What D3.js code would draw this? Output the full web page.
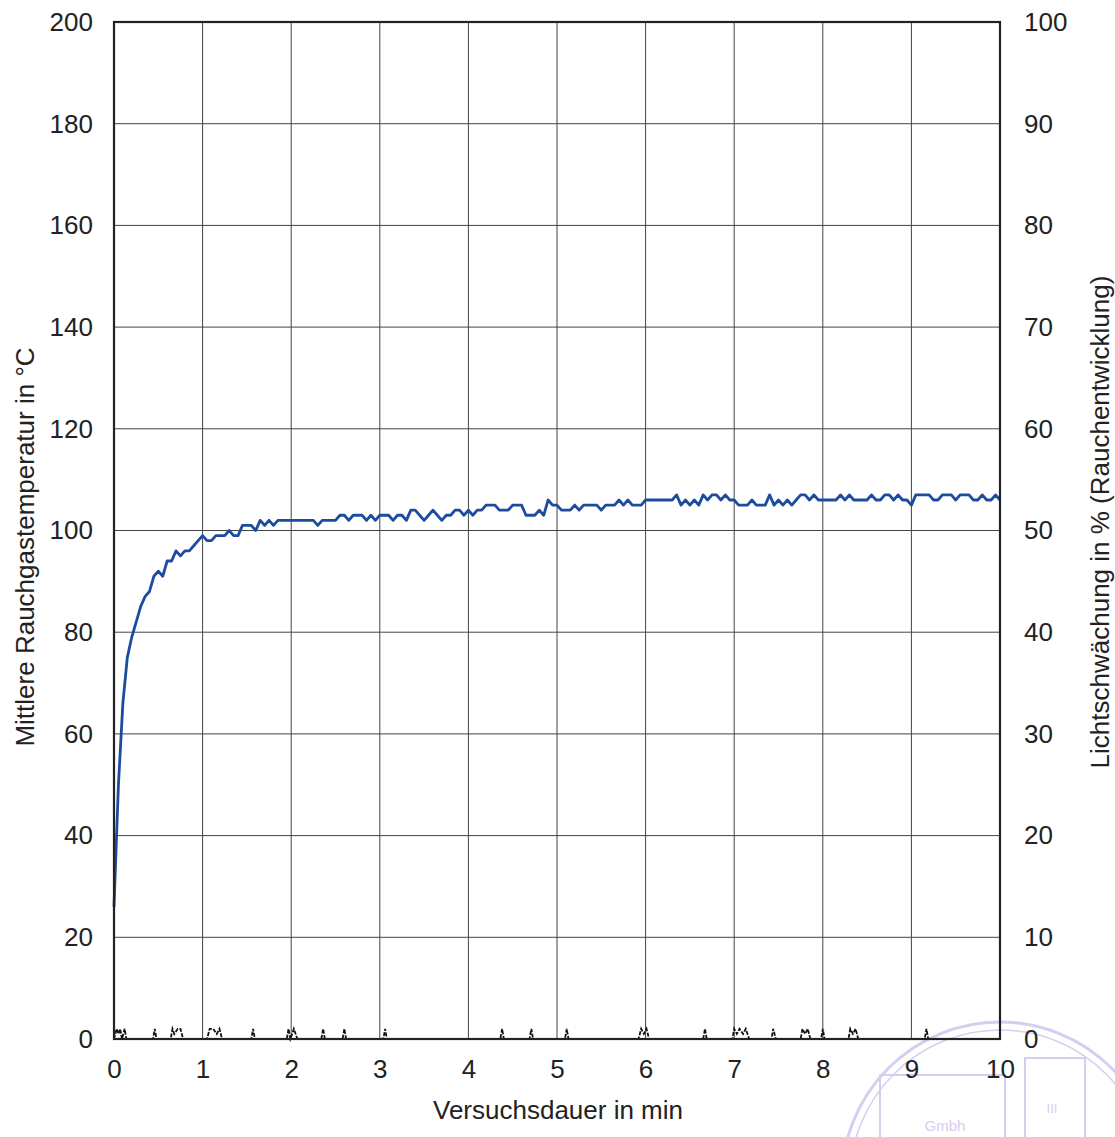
<!DOCTYPE html>
<html>
<head>
<meta charset="utf-8">
<script src="https://cdn.jsdelivr.net/npm/d3@7"></script>
<style>
  body { margin: 0; background: #fff; }
  svg { font-family: "Liberation Sans", Arial, sans-serif; }
</style>
</head>
<body>
<svg width="1115" height="1137"></svg>
<script>
// Time axis (min) and mean flue gas temperature (°C), sampled every 0.05 min
var tempTimes = d3.range(0, 201).map((i) => +(i * 0.05).toFixed(2));
var tempValues = [
  26, 50, 66, 75, 79, 82, 85, 87, 88, 91,
  92, 91, 94, 94, 96, 95, 96, 96, 97, 98,
  99, 98, 98, 99, 99, 99, 100, 99, 99, 101,
  101, 101, 100, 102, 101, 102, 101, 102, 102, 102,
  102, 102, 102, 102, 102, 102, 101, 102, 102, 102,
  102, 103, 103, 102, 103, 103, 103, 102, 103, 102,
  103, 103, 103, 102, 103, 103, 102, 104, 104, 103,
  102, 103, 104, 103, 102, 103, 103, 104, 104, 103,
  104, 103, 104, 104, 105, 105, 105, 104, 104, 104,
  105, 105, 105, 103, 103, 103, 104, 103, 106, 105,
  105, 104, 104, 104, 105, 104, 105, 105, 105, 105,
  104, 105, 105, 105, 106, 105, 106, 105, 105, 105,
  106, 106, 106, 106, 106, 106, 106, 107, 105, 106,
  105, 106, 105, 107, 106, 107, 107, 106, 107, 106,
  106, 105, 105, 105, 106, 105, 105, 105, 107, 105,
  106, 105, 106, 105, 106, 107, 107, 106, 107, 106,
  106, 106, 106, 106, 107, 106, 107, 106, 106, 106,
  106, 107, 106, 106, 107, 107, 106, 107, 106, 106,
  105, 107, 107, 107, 107, 106, 106, 107, 107, 107,
  106, 107, 107, 107, 106, 106, 107, 106, 106, 107,
  106
];

// Light obscuration (%), near zero with small peaks
var smokeTimes = [
  0, 0.03, 0.05, 0.07, 0.09, 0.12, 0.14, 0.44, 0.46, 0.48,
  0.64, 0.66, 0.68, 0.72, 0.75, 0.78, 1.05, 1.08, 1.12, 1.16,
  1.19, 1.22, 1.55, 1.57, 1.59, 1.95, 1.97, 1.99, 2.03, 2.07,
  2.34, 2.36, 2.38, 2.58, 2.6, 2.62, 3.04, 3.06, 3.08, 4.36,
  4.38, 4.4, 4.69, 4.71, 4.73, 5.09, 5.11, 5.13, 5.92, 5.95,
  5.98, 6.01, 6.04, 6.65, 6.67, 6.69, 6.98, 7.0, 7.03, 7.06,
  7.1, 7.13, 7.17, 7.42, 7.44, 7.47, 7.75, 7.77, 7.8, 7.83,
  7.86, 7.98, 8.0, 8.02, 8.29, 8.31, 8.34, 8.37, 8.4, 9.15,
  9.17, 9.19, 10
];
var smokeValues = [
  0, 1, 0.5, 1, 0, 1, 0, 0, 1, 0,
  0, 1, 0.5, 1, 1, 0, 0, 1, 1, 0.5,
  1, 0, 0, 1, 0, 0, 1, 0, 1, 0,
  0, 1, 0, 0, 1, 0, 0, 1, 0, 0,
  1, 0, 0, 1, 0, 0, 1, 0, 0, 1,
  0.5, 1, 0, 0, 1, 0, 0, 1, 0.5, 1,
  0.5, 1, 0, 0, 1, 0, 0, 1, 0.5, 1,
  0, 0, 1, 0, 0, 1, 0.5, 1, 0, 0,
  1, 0, 0
];

var xTicks = d3.range(0, 11);
var leftTicks = d3.range(0, 201, 20);
var rightTicks = d3.range(0, 101, 10);

var svg = d3.select("svg"),
  margin = { top: 22, right: 115, bottom: 98, left: 114 },
  width = svg.attr("width") - margin.left - margin.right,
  height = svg.attr("height") - margin.top - margin.bottom;

// faint stamp from the scanned page
var stamp = svg.append("g").attr("fill", "none").attr("stroke", "#d4cef2");
stamp.append("circle").attr("cx", 1000).attr("cy", 1180).attr("r", 158).attr("stroke-width", 3);
stamp.append("circle").attr("cx", 1000).attr("cy", 1180).attr("r", 150).attr("stroke-width", 1.5);
stamp.append("rect").attr("x", 880).attr("y", 1075).attr("width", 125).attr("height", 80).attr("stroke-width", 2);
stamp.append("rect").attr("x", 1025).attr("y", 1058).attr("width", 60).attr("height", 90).attr("stroke-width", 2);
svg.append("text").attr("x", 945).attr("y", 1131).attr("text-anchor", "middle")
  .attr("fill", "#d6cdf0").attr("font-size", 15).text("Gmbh");
svg.append("text").attr("x", 1052).attr("y", 1113).attr("text-anchor", "middle")
  .attr("fill", "#d6cdf0").attr("font-size", 13).text("III");

var g = svg
  .append("g")
  .attr("transform", "translate(" + margin.left + "," + margin.top + ")");

var xScale = d3.scaleLinear().domain([0, 10]).range([0, width]);
var yLeft = d3.scaleLinear().domain([0, 200]).range([height, 0]);
var yRight = d3.scaleLinear().domain([0, 100]).range([height, 0]);

// Grid
g.append("g")
  .selectAll("line")
  .data(xTicks.slice(1, -1))
  .enter()
  .append("line")
  .attr("x1", (d) => xScale(d))
  .attr("x2", (d) => xScale(d))
  .attr("y1", 0)
  .attr("y2", height)
  .attr("stroke", "#444")
  .attr("stroke-width", 1);

g.append("g")
  .selectAll("line")
  .data(leftTicks.slice(1, -1))
  .enter()
  .append("line")
  .attr("x1", 0)
  .attr("x2", width)
  .attr("y1", (d) => yLeft(d))
  .attr("y2", (d) => yLeft(d))
  .attr("stroke", "#444")
  .attr("stroke-width", 1);

// Axes (labels only, frame drawn separately)
var xAxis = g.append("g")
  .attr("transform", "translate(0," + height + ")")
  .call(d3.axisBottom(xScale).tickValues(xTicks).tickSize(0).tickPadding(21));

var leftAxis = g.append("g")
  .call(d3.axisLeft(yLeft).tickValues(leftTicks).tickSize(0).tickPadding(21));

var rightAxis = g.append("g")
  .attr("transform", "translate(" + width + ",0)")
  .call(d3.axisRight(yRight).tickValues(rightTicks).tickSize(0).tickPadding(24));

[xAxis, leftAxis, rightAxis].forEach(function (a) {
  a.select(".domain").remove();
  a.selectAll("text")
    .attr("font-family", "Liberation Sans, Arial, sans-serif")
    .attr("font-size", 26)
    .attr("fill", "#222");
});

// Smoke line (right axis)
var smokeLine = d3.line()
  .x((d, i) => xScale(smokeTimes[i]))
  .y((d) => yRight(d));

g.append("path")
  .datum(smokeValues)
  .attr("fill", "none")
  .attr("stroke", "#111")
  .attr("stroke-width", 1.8)
  .attr("stroke-dasharray", "4,1.5")
  .attr("d", smokeLine);

// Temperature line (left axis)
var tempLine = d3.line()
  .x((d, i) => xScale(tempTimes[i]))
  .y((d) => yLeft(d));

g.append("path")
  .datum(tempValues)
  .attr("fill", "none")
  .attr("stroke", "#1d4c9e")
  .attr("stroke-width", 2.8)
  .attr("stroke-linejoin", "round")
  .attr("d", tempLine);

// Frame
g.append("rect")
  .attr("width", width)
  .attr("height", height)
  .attr("fill", "none")
  .attr("stroke", "#222")
  .attr("stroke-width", 2.2);

// Axis titles
svg.append("text")
  .attr("x", margin.left + width / 2 + 1)
  .attr("y", 1119)
  .attr("text-anchor", "middle")
  .attr("font-size", 26)
  .attr("fill", "#222")
  .text("Versuchsdauer in min");

svg.append("text")
  .attr("transform", "translate(34,547) rotate(-90)")
  .attr("text-anchor", "middle")
  .attr("font-size", 26)
  .attr("fill", "#222")
  .text("Mittlere Rauchgastemperatur in °C");

svg.append("text")
  .attr("transform", "translate(1109,522) rotate(-90)")
  .attr("text-anchor", "middle")
  .attr("font-size", 26)
  .attr("fill", "#222")
  .text("Lichtschwächung in % (Rauchentwicklung)");
</script>
</body>
</html>
